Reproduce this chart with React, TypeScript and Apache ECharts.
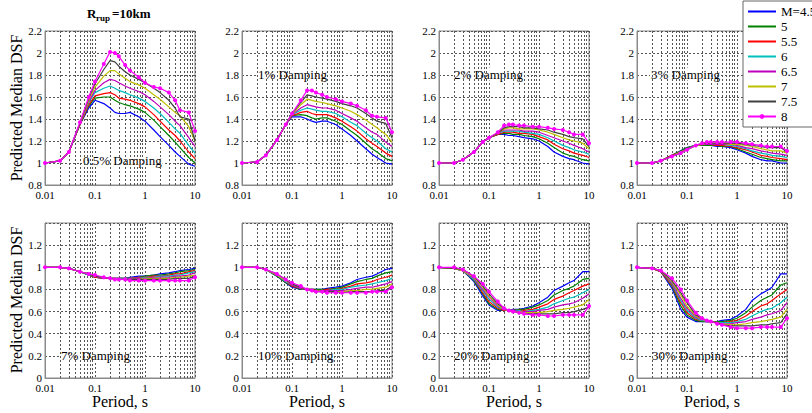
import React, { useEffect, useRef } from "react";
import * as echarts from "echarts";

// ---- data ----
const periods = [0.01, 0.02, 0.03, 0.05, 0.075, 0.1, 0.15, 0.2, 0.25, 0.3, 0.4, 0.5, 0.75, 1, 1.5, 2, 3, 4, 5, 7.5, 10];
const magnitudes = ["M=4.5", "5", "5.5", "6", "6.5", "7", "7.5", "8"];
const dampingLabels = ["0.5% Damping", "1% Damping", "2% Damping", "3% Damping", "7% Damping", "10% Damping", "20% Damping", "30% Damping"];
const xTickValues = [0.01, 0.1, 1, 10];
const minorMultipliers = [2, 3, 4, 5, 6, 7, 8, 9];

const damp05 = [
  [1.00, 1.02, 1.10, 1.35, 1.50, 1.57, 1.54, 1.50, 1.46, 1.45, 1.45, 1.46, 1.42, 1.38, 1.30, 1.24, 1.16, 1.10, 1.06, 0.99, 0.97],
  [1.00, 1.02, 1.10, 1.35, 1.52, 1.59, 1.60, 1.60, 1.57, 1.55, 1.53, 1.52, 1.49, 1.46, 1.39, 1.33, 1.25, 1.19, 1.14, 1.05, 1.00],
  [1.00, 1.02, 1.10, 1.35, 1.53, 1.61, 1.63, 1.64, 1.62, 1.59, 1.58, 1.57, 1.54, 1.51, 1.44, 1.38, 1.30, 1.25, 1.20, 1.10, 1.04],
  [1.00, 1.02, 1.10, 1.36, 1.55, 1.64, 1.68, 1.70, 1.68, 1.66, 1.64, 1.62, 1.59, 1.56, 1.50, 1.45, 1.37, 1.31, 1.27, 1.16, 1.09],
  [1.00, 1.02, 1.10, 1.36, 1.56, 1.66, 1.73, 1.76, 1.75, 1.73, 1.70, 1.68, 1.65, 1.62, 1.56, 1.51, 1.44, 1.38, 1.34, 1.23, 1.15],
  [1.00, 1.02, 1.10, 1.36, 1.57, 1.69, 1.79, 1.84, 1.84, 1.81, 1.77, 1.74, 1.71, 1.68, 1.62, 1.58, 1.51, 1.46, 1.43, 1.33, 1.20],
  [1.00, 1.02, 1.10, 1.36, 1.59, 1.72, 1.85, 1.93, 1.92, 1.88, 1.83, 1.80, 1.76, 1.73, 1.68, 1.64, 1.57, 1.50, 1.42, 1.40, 1.20],
  [1.00, 1.02, 1.10, 1.37, 1.60, 1.74, 1.90, 2.01, 2.00, 1.97, 1.89, 1.84, 1.78, 1.73, 1.69, 1.68, 1.64, 1.57, 1.48, 1.46, 1.29],
];
const damp1 = [
  [1.00, 1.01, 1.07, 1.21, 1.35, 1.42, 1.42, 1.40, 1.38, 1.37, 1.38, 1.38, 1.35, 1.31, 1.25, 1.20, 1.13, 1.08, 1.05, 1.00, 0.99],
  [1.00, 1.01, 1.07, 1.21, 1.35, 1.43, 1.44, 1.43, 1.41, 1.40, 1.41, 1.41, 1.38, 1.35, 1.29, 1.25, 1.18, 1.13, 1.10, 1.04, 1.02],
  [1.00, 1.01, 1.07, 1.21, 1.35, 1.43, 1.46, 1.47, 1.45, 1.44, 1.44, 1.44, 1.41, 1.38, 1.33, 1.29, 1.22, 1.18, 1.15, 1.09, 1.06],
  [1.00, 1.01, 1.07, 1.21, 1.35, 1.44, 1.48, 1.50, 1.49, 1.48, 1.47, 1.47, 1.45, 1.42, 1.37, 1.34, 1.27, 1.23, 1.20, 1.13, 1.10],
  [1.00, 1.01, 1.07, 1.21, 1.35, 1.44, 1.50, 1.53, 1.52, 1.51, 1.50, 1.50, 1.48, 1.45, 1.41, 1.38, 1.32, 1.28, 1.26, 1.19, 1.15],
  [1.00, 1.01, 1.07, 1.21, 1.35, 1.44, 1.53, 1.58, 1.57, 1.56, 1.55, 1.54, 1.52, 1.50, 1.47, 1.44, 1.39, 1.35, 1.32, 1.26, 1.19],
  [1.00, 1.01, 1.07, 1.21, 1.35, 1.45, 1.55, 1.62, 1.61, 1.60, 1.59, 1.58, 1.56, 1.54, 1.52, 1.50, 1.45, 1.41, 1.38, 1.36, 1.23],
  [1.00, 1.01, 1.07, 1.21, 1.35, 1.45, 1.57, 1.66, 1.66, 1.64, 1.62, 1.60, 1.58, 1.56, 1.54, 1.52, 1.48, 1.43, 1.42, 1.41, 1.28],
];
const damp2 = [
  [1.00, 1.00, 1.03, 1.10, 1.19, 1.23, 1.26, 1.26, 1.25, 1.25, 1.24, 1.23, 1.22, 1.20, 1.15, 1.10, 1.06, 1.04, 1.03, 1.00, 0.99],
  [1.00, 1.00, 1.03, 1.10, 1.19, 1.23, 1.26, 1.27, 1.27, 1.26, 1.26, 1.25, 1.24, 1.22, 1.18, 1.14, 1.09, 1.07, 1.06, 1.03, 1.02],
  [1.00, 1.00, 1.03, 1.10, 1.19, 1.23, 1.26, 1.28, 1.28, 1.28, 1.27, 1.27, 1.26, 1.24, 1.21, 1.17, 1.13, 1.11, 1.09, 1.07, 1.05],
  [1.00, 1.00, 1.03, 1.10, 1.19, 1.23, 1.27, 1.29, 1.29, 1.29, 1.29, 1.28, 1.27, 1.26, 1.23, 1.20, 1.16, 1.14, 1.12, 1.10, 1.08],
  [1.00, 1.00, 1.03, 1.10, 1.19, 1.23, 1.27, 1.30, 1.30, 1.30, 1.30, 1.29, 1.29, 1.28, 1.25, 1.23, 1.20, 1.18, 1.16, 1.13, 1.10],
  [1.00, 1.00, 1.03, 1.10, 1.19, 1.23, 1.27, 1.31, 1.32, 1.32, 1.31, 1.31, 1.31, 1.30, 1.28, 1.26, 1.23, 1.21, 1.20, 1.18, 1.13],
  [1.00, 1.00, 1.03, 1.10, 1.19, 1.23, 1.27, 1.32, 1.33, 1.33, 1.33, 1.32, 1.32, 1.31, 1.30, 1.28, 1.26, 1.24, 1.23, 1.22, 1.15],
  [1.00, 1.00, 1.03, 1.10, 1.19, 1.23, 1.28, 1.34, 1.35, 1.35, 1.34, 1.34, 1.33, 1.33, 1.32, 1.31, 1.30, 1.28, 1.26, 1.26, 1.18],
];
const damp3 = [
  [1.00, 1.00, 1.02, 1.07, 1.11, 1.14, 1.16, 1.16, 1.16, 1.16, 1.15, 1.15, 1.14, 1.12, 1.09, 1.06, 1.03, 1.02, 1.02, 1.00, 1.00],
  [1.00, 1.00, 1.02, 1.07, 1.11, 1.14, 1.16, 1.16, 1.16, 1.16, 1.16, 1.15, 1.15, 1.13, 1.10, 1.08, 1.05, 1.04, 1.03, 1.02, 1.02],
  [1.00, 1.00, 1.02, 1.07, 1.10, 1.13, 1.16, 1.17, 1.17, 1.17, 1.16, 1.16, 1.15, 1.14, 1.12, 1.10, 1.07, 1.06, 1.05, 1.04, 1.03],
  [1.00, 1.00, 1.02, 1.06, 1.10, 1.13, 1.16, 1.17, 1.17, 1.17, 1.17, 1.17, 1.16, 1.15, 1.13, 1.11, 1.09, 1.08, 1.07, 1.06, 1.05],
  [1.00, 1.00, 1.02, 1.06, 1.10, 1.13, 1.16, 1.17, 1.17, 1.17, 1.17, 1.17, 1.17, 1.16, 1.14, 1.13, 1.11, 1.10, 1.09, 1.08, 1.07],
  [1.00, 1.00, 1.02, 1.06, 1.10, 1.12, 1.16, 1.17, 1.18, 1.18, 1.18, 1.18, 1.17, 1.17, 1.16, 1.15, 1.13, 1.12, 1.11, 1.11, 1.09],
  [1.00, 1.00, 1.02, 1.06, 1.09, 1.12, 1.16, 1.18, 1.18, 1.18, 1.18, 1.18, 1.18, 1.18, 1.17, 1.16, 1.15, 1.14, 1.14, 1.14, 1.10],
  [1.00, 1.00, 1.02, 1.06, 1.09, 1.12, 1.16, 1.18, 1.19, 1.19, 1.19, 1.19, 1.19, 1.19, 1.18, 1.17, 1.16, 1.15, 1.15, 1.15, 1.11],
];
const damp7 = [
  [1.00, 1.00, 0.99, 0.96, 0.93, 0.91, 0.90, 0.90, 0.90, 0.90, 0.90, 0.91, 0.92, 0.92, 0.93, 0.94, 0.95, 0.96, 0.97, 0.98, 0.99],
  [1.00, 1.00, 0.99, 0.96, 0.93, 0.91, 0.90, 0.90, 0.90, 0.90, 0.90, 0.90, 0.91, 0.92, 0.93, 0.93, 0.94, 0.95, 0.96, 0.97, 0.98],
  [1.00, 1.00, 0.99, 0.96, 0.93, 0.91, 0.90, 0.90, 0.90, 0.90, 0.90, 0.90, 0.91, 0.91, 0.92, 0.92, 0.93, 0.94, 0.94, 0.96, 0.97],
  [1.00, 1.00, 0.99, 0.96, 0.93, 0.92, 0.90, 0.90, 0.90, 0.90, 0.90, 0.90, 0.90, 0.91, 0.91, 0.92, 0.92, 0.93, 0.93, 0.95, 0.96],
  [1.00, 1.00, 0.99, 0.96, 0.94, 0.92, 0.90, 0.90, 0.90, 0.89, 0.89, 0.90, 0.90, 0.90, 0.91, 0.91, 0.91, 0.92, 0.92, 0.93, 0.95],
  [1.00, 1.00, 0.99, 0.96, 0.94, 0.92, 0.91, 0.90, 0.90, 0.89, 0.89, 0.89, 0.89, 0.90, 0.90, 0.90, 0.90, 0.91, 0.91, 0.92, 0.93],
  [1.00, 1.00, 0.99, 0.96, 0.94, 0.92, 0.91, 0.90, 0.89, 0.89, 0.89, 0.89, 0.89, 0.89, 0.89, 0.89, 0.89, 0.90, 0.90, 0.90, 0.92],
  [1.00, 1.00, 0.99, 0.96, 0.94, 0.93, 0.91, 0.90, 0.89, 0.89, 0.89, 0.88, 0.88, 0.88, 0.88, 0.88, 0.88, 0.88, 0.88, 0.88, 0.91],
];
const damp10 = [
  [1.00, 1.00, 0.98, 0.92, 0.86, 0.82, 0.80, 0.80, 0.80, 0.80, 0.80, 0.81, 0.82, 0.83, 0.86, 0.89, 0.91, 0.92, 0.94, 0.98, 0.99],
  [1.00, 1.00, 0.98, 0.92, 0.86, 0.83, 0.80, 0.80, 0.80, 0.80, 0.80, 0.80, 0.81, 0.82, 0.85, 0.87, 0.89, 0.90, 0.92, 0.95, 0.96],
  [1.00, 1.00, 0.98, 0.93, 0.87, 0.83, 0.81, 0.80, 0.80, 0.79, 0.79, 0.80, 0.80, 0.81, 0.83, 0.85, 0.86, 0.87, 0.89, 0.91, 0.93],
  [1.00, 1.00, 0.98, 0.93, 0.87, 0.84, 0.81, 0.80, 0.79, 0.79, 0.79, 0.79, 0.80, 0.80, 0.82, 0.83, 0.84, 0.85, 0.86, 0.88, 0.90],
  [1.00, 1.00, 0.98, 0.93, 0.88, 0.84, 0.81, 0.80, 0.79, 0.79, 0.79, 0.79, 0.79, 0.79, 0.80, 0.81, 0.82, 0.82, 0.83, 0.85, 0.87],
  [1.00, 1.00, 0.98, 0.93, 0.88, 0.85, 0.82, 0.80, 0.79, 0.79, 0.78, 0.78, 0.78, 0.78, 0.79, 0.79, 0.80, 0.80, 0.81, 0.82, 0.85],
  [1.00, 1.00, 0.98, 0.94, 0.89, 0.85, 0.82, 0.80, 0.79, 0.78, 0.78, 0.78, 0.78, 0.77, 0.78, 0.78, 0.78, 0.78, 0.79, 0.79, 0.83],
  [1.00, 1.00, 0.98, 0.94, 0.89, 0.86, 0.83, 0.80, 0.79, 0.78, 0.78, 0.77, 0.77, 0.77, 0.77, 0.77, 0.77, 0.78, 0.78, 0.78, 0.82],
];
const damp20 = [
  [1.00, 0.99, 0.97, 0.87, 0.74, 0.66, 0.61, 0.61, 0.61, 0.62, 0.62, 0.63, 0.65, 0.68, 0.73, 0.79, 0.83, 0.86, 0.88, 0.96, 0.96],
  [1.00, 0.99, 0.97, 0.88, 0.76, 0.67, 0.62, 0.61, 0.61, 0.61, 0.62, 0.62, 0.64, 0.66, 0.70, 0.75, 0.79, 0.81, 0.83, 0.89, 0.90],
  [1.00, 0.99, 0.97, 0.89, 0.77, 0.69, 0.63, 0.61, 0.61, 0.61, 0.61, 0.61, 0.62, 0.64, 0.67, 0.71, 0.74, 0.77, 0.79, 0.83, 0.85],
  [1.00, 0.99, 0.97, 0.89, 0.79, 0.71, 0.64, 0.62, 0.61, 0.61, 0.61, 0.60, 0.61, 0.62, 0.64, 0.67, 0.70, 0.72, 0.73, 0.77, 0.80],
  [1.00, 0.99, 0.97, 0.90, 0.80, 0.73, 0.65, 0.62, 0.61, 0.61, 0.60, 0.60, 0.60, 0.61, 0.62, 0.64, 0.66, 0.67, 0.68, 0.72, 0.76],
  [1.00, 0.99, 0.97, 0.91, 0.82, 0.74, 0.66, 0.62, 0.61, 0.60, 0.60, 0.59, 0.59, 0.59, 0.60, 0.61, 0.62, 0.63, 0.64, 0.66, 0.71],
  [1.00, 0.99, 0.98, 0.92, 0.83, 0.76, 0.67, 0.63, 0.61, 0.60, 0.59, 0.58, 0.58, 0.58, 0.58, 0.58, 0.59, 0.59, 0.60, 0.62, 0.64],
  [1.00, 1.00, 0.98, 0.92, 0.85, 0.78, 0.69, 0.63, 0.61, 0.60, 0.59, 0.58, 0.57, 0.57, 0.56, 0.56, 0.57, 0.57, 0.57, 0.57, 0.65],
];
const damp30 = [
  [1.00, 0.99, 0.96, 0.81, 0.62, 0.55, 0.51, 0.51, 0.51, 0.51, 0.51, 0.52, 0.53, 0.56, 0.62, 0.70, 0.76, 0.79, 0.82, 0.94, 0.94],
  [1.00, 0.99, 0.96, 0.83, 0.65, 0.57, 0.52, 0.51, 0.51, 0.51, 0.51, 0.51, 0.52, 0.54, 0.59, 0.64, 0.70, 0.73, 0.75, 0.84, 0.86],
  [1.00, 0.99, 0.96, 0.84, 0.68, 0.59, 0.53, 0.52, 0.51, 0.51, 0.50, 0.50, 0.51, 0.52, 0.56, 0.60, 0.65, 0.67, 0.70, 0.76, 0.80],
  [1.00, 0.99, 0.97, 0.85, 0.70, 0.61, 0.54, 0.52, 0.51, 0.51, 0.50, 0.50, 0.50, 0.51, 0.53, 0.56, 0.60, 0.62, 0.63, 0.68, 0.73],
  [1.00, 0.99, 0.97, 0.86, 0.72, 0.63, 0.55, 0.53, 0.52, 0.51, 0.50, 0.49, 0.49, 0.50, 0.51, 0.53, 0.55, 0.57, 0.58, 0.61, 0.68],
  [1.00, 0.99, 0.97, 0.87, 0.75, 0.65, 0.56, 0.53, 0.52, 0.51, 0.50, 0.49, 0.48, 0.48, 0.49, 0.50, 0.51, 0.52, 0.53, 0.55, 0.62],
  [1.00, 0.99, 0.97, 0.88, 0.77, 0.68, 0.57, 0.54, 0.52, 0.51, 0.50, 0.48, 0.47, 0.47, 0.47, 0.47, 0.48, 0.48, 0.49, 0.50, 0.58],
  [1.00, 0.99, 0.97, 0.90, 0.80, 0.70, 0.59, 0.54, 0.52, 0.51, 0.49, 0.48, 0.46, 0.45, 0.45, 0.45, 0.46, 0.46, 0.46, 0.46, 0.54],
];
const panels = [damp05, damp1, damp2, damp3, damp7, damp10, damp20, damp30];

// ---- styles / layout ----
const COLORS = ["#0000ff", "#008000", "#ff0000", "#00bfbf", "#bf00bf", "#bfbf00", "#404040", "#ff00ff"];
const SERIF = "'Liberation Serif', 'Times New Roman', serif";
const GRID_LEFT = [45, 242, 439, 637];
const GRID_TOP = [31, 223];
const GRID_H = [154, 155];
const GRID_W = 150;
const Y_RANGE = [
  { min: 0.8, max: 2.2 },
  { min: 0, max: 1.4 },
];
const LABEL_POS = [
  [82, 160], [257, 74], [453, 74], [650, 74],
  [60, 355], [257, 355], [453, 355], [651, 355],
];
const GRID_LINE = { color: "#555", type: [2, 2] as number[], width: 1 };

function buildOption() {
  const grid: any[] = [];
  const xAxis: any[] = [];
  const yAxis: any[] = [];
  const series: any[] = [];
  const minorX: number[] = [];
  xTickValues.slice(0, 3).forEach((d) => minorMultipliers.forEach((m) => minorX.push(+(d * m).toPrecision(3))));

  panels.forEach((panel, i) => {
    const row = Math.floor(i / 4);
    const col = i % 4;
    grid.push({
      left: GRID_LEFT[col],
      top: GRID_TOP[row],
      width: GRID_W,
      height: GRID_H[row],
      show: true,
      borderColor: "#8a8a8a",
      borderWidth: 1,
    });
    xAxis.push({
      type: "log",
      logBase: 10,
      gridIndex: i,
      min: 0.01,
      max: 10,
      axisLine: { show: true, lineStyle: { color: "#8a8a8a" } },
      axisTick: { show: false },
      axisLabel: {
        color: "#000",
        fontFamily: SERIF,
        fontSize: 11,
        margin: 4,
        formatter: (v: number) => `${parseFloat(Number(v).toPrecision(2))}`,
      },
      splitLine: { show: true, lineStyle: GRID_LINE },
    });
    yAxis.push({
      type: "value",
      gridIndex: i,
      min: Y_RANGE[row].min,
      max: Y_RANGE[row].max,
      interval: 0.2,
      axisLine: { show: true, lineStyle: { color: "#8a8a8a" } },
      axisTick: { show: false },
      axisLabel: {
        color: "#000",
        fontFamily: SERIF,
        fontSize: 11,
        margin: 3,
        showMaxLabel: row === 0,
        formatter: (v: number) => `${Number(Number(v).toFixed(1))}`,
      },
      splitLine: { show: true, lineStyle: GRID_LINE },
    });
    series.push({
      type: "line",
      name: `grid-${i}`,
      xAxisIndex: i,
      yAxisIndex: i,
      data: [],
      z: 1,
      silent: true,
      markLine: {
        silent: true,
        symbol: ["none", "none"],
        label: { show: false },
        lineStyle: GRID_LINE,
        emphasis: { disabled: true },
        data: minorX.map((v) => ({ xAxis: v })),
      },
    });
    panel.forEach((vals, s) => {
      const isLast = s === magnitudes.length - 1;
      series.push({
        type: "line",
        name: magnitudes[s],
        xAxisIndex: i,
        yAxisIndex: i,
        z: 5,
        data: periods.map((p, k) => [p, vals[k]]),
        symbol: isLast ? "circle" : "none",
        showSymbol: isLast,
        symbolSize: 4,
        color: COLORS[s],
        itemStyle: { color: COLORS[s] },
        lineStyle: { color: COLORS[s], width: 1.2 },
      });
    });
  });

  const graphic: any[] = [];
  dampingLabels.forEach((t, i) => {
    graphic.push({
      type: "text",
      x: LABEL_POS[i][0],
      y: LABEL_POS[i][1],
      z: 3,
      style: {
        text: t,
        fill: "#000",
        font: `13px ${SERIF}`,
        textVerticalAlign: "middle",
        backgroundColor: "#fff",
        padding: [0, 1],
      },
    });
  });
  // title R_rup = 10km
  graphic.push({ type: "text", x: 87, y: 13, style: { text: "R", fill: "#000", font: `bold 13px ${SERIF}`, textVerticalAlign: "middle" } });
  graphic.push({ type: "text", x: 96, y: 18, style: { text: "rup", fill: "#000", font: `bold 9px ${SERIF}`, textVerticalAlign: "middle" } });
  graphic.push({ type: "text", x: 112, y: 13, style: { text: "=10km", fill: "#000", font: `bold 13px ${SERIF}`, textVerticalAlign: "middle" } });
  // y axis names
  [108, 300].forEach((cy) => {
    graphic.push({
      type: "text",
      x: 16,
      y: cy,
      rotation: Math.PI / 2,
      style: { text: "Predicted Median DSF", fill: "#000", font: `16px ${SERIF}`, textAlign: "center", textVerticalAlign: "middle" },
    });
  });
  // x axis names
  GRID_LEFT.forEach((l) => {
    graphic.push({
      type: "text",
      x: l + GRID_W / 2,
      y: 401,
      style: { text: "Period, s", fill: "#000", font: `16px ${SERIF}`, textAlign: "center", textVerticalAlign: "middle" },
    });
  });

  return {
    animation: false,
    backgroundColor: "#fff",
    grid,
    xAxis,
    yAxis,
    series,
    graphic,
    legend: {
      data: magnitudes.map((m, i) => (i < magnitudes.length - 1 ? { name: m, itemStyle: { opacity: 0 } } : { name: m })),
      orient: "vertical",
      left: 743,
      top: 1,
      itemWidth: 28,
      itemHeight: 6,
      itemGap: 2,
      padding: [4, 8, 4, 4],
      backgroundColor: "#fff",
      borderColor: "#666",
      borderWidth: 1,
      selectedMode: false,
      z: 10,
      textStyle: { color: "#000", fontFamily: SERIF, fontSize: 13, lineHeight: 13 },
    },
  };
}

export default function App() {
  const ref = useRef<HTMLDivElement>(null);
  useEffect(() => {
    if (!ref.current) return;
    const chart = echarts.init(ref.current, null, { renderer: "svg" });
    chart.setOption(buildOption() as any);
    return () => chart.dispose();
  }, []);
  return <div ref={ref} style={{ position: "fixed", left: 0, top: 0, width: 812, height: 413 }} />;
}
